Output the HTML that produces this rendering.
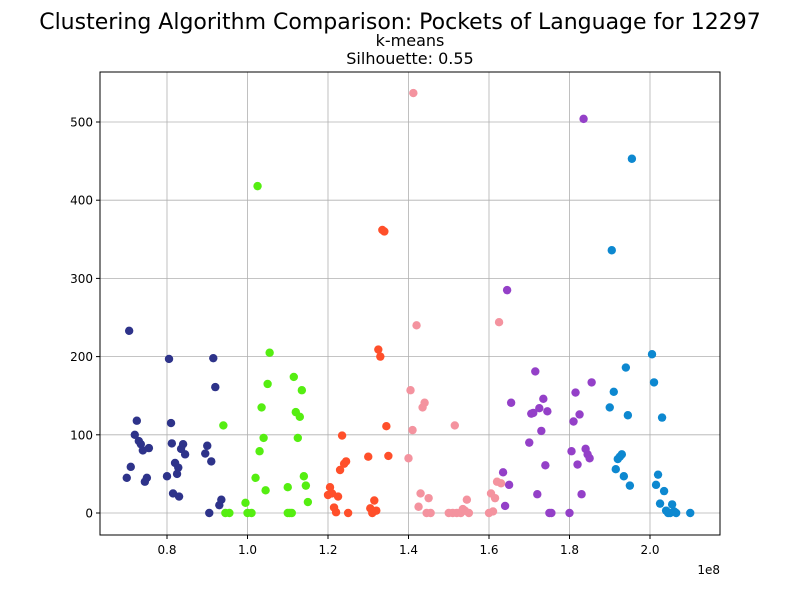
<!DOCTYPE html>
<html><head><meta charset="utf-8"><style>
body{margin:0;background:#fff;font-family:"Liberation Sans","DejaVu Sans",sans-serif;}
svg text{font-family:"DejaVu Sans","Liberation Sans",sans-serif;}
</style></head><body>
<svg id="chart" width="800" height="600" xmlns="http://www.w3.org/2000/svg">
<rect width="800" height="600" fill="#fff"/>
<text x="400" y="29" text-anchor="middle" font-size="22">Clustering Algorithm Comparison: Pockets of Language for 12297</text>
<text x="410" y="46" text-anchor="middle" font-size="16">k-means</text>
<text x="410" y="64" text-anchor="middle" font-size="16">Silhouette: 0.55</text>
<g id="grid"></g><g id="pts"></g><g id="axes"></g>
<text x="720" y="574" text-anchor="end" font-size="12">1e8</text>
</svg>
<script>
const xTicks=[0.8,1.0,1.2,1.4,1.6,1.8,2.0];
const yTicks=[0,100,200,300,400,500];
const colors=["#2e338a","#55ee11","#ff4f2a","#f4939f","#9440c8","#0d88d0"];
const navyX=[0.706,0.72,0.725,0.73,0.735,0.74,0.745,0.75,0.755,0.71,0.70,0.80,0.805,0.81,0.812,0.815,0.82,0.825,0.828,0.83,0.835,0.84,0.845,0.895,0.90,0.905,0.91,0.915,0.92,0.93,0.935];
const navyY=[233,100,118,92,88,80,40,45,83,59,45,47,197,115,89,25,64,50,58,21,82,88,75,76,86,0,66,198,161,10,17];
const greenX=[0.94,0.945,0.955,0.995,1.0,1.01,1.02,1.025,1.03,1.035,1.04,1.045,1.05,1.055,1.10,1.10,1.11,1.115,1.12,1.125,1.13,1.135,1.14,1.145,1.15,1.105];
const greenY=[112,0,0,13,0,0,45,418,79,135,96,29,165,205,33,0,0,174,129,96,123,157,47,35,14,0];
const redX=[1.20,1.205,1.21,1.215,1.22,1.225,1.23,1.235,1.24,1.245,1.25,1.30,1.305,1.31,1.315,1.32,1.325,1.33,1.335,1.34,1.345,1.35];
const redY=[23,33,25,7,1,21,55,99,63,66,0,72,6,0,16,3,209,200,362,360,111,73];
const pinkX=[1.40,1.405,1.41,1.412,1.42,1.425,1.43,1.435,1.44,1.445,1.45,1.455,1.50,1.51,1.515,1.52,1.53,1.535,1.54,1.545,1.55,1.60,1.605,1.61,1.615,1.62,1.625,1.63];
const pinkY=[70,157,106,537,240,8,25,135,141,0,19,0,0,0,112,0,0,5,3,17,0,0,25,2,19,40,244,38];
const purpleX=[1.635,1.64,1.645,1.65,1.655,1.70,1.705,1.71,1.715,1.72,1.725,1.73,1.735,1.74,1.745,1.75,1.755,1.80,1.805,1.81,1.815,1.82,1.825,1.83,1.835,1.84,1.845,1.85,1.855];
const purpleY=[52,9,285,36,141,90,127,128,181,24,134,105,146,61,130,0,0,0,79,117,154,62,126,24,504,82,75,70,167];
const blueX=[1.90,1.905,1.91,1.915,1.92,1.925,1.93,1.935,1.94,1.945,1.95,1.955,2.005,2.01,2.015,2.02,2.025,2.03,2.035,2.04,2.045,2.05,2.055,2.06,2.065,2.10];
const blueY=[135,336,155,56,69,72,75,47,186,125,35,453,203,167,36,49,12,122,28,3,0,0,11,2,0,0];
const L=100,R=720,T=72,B=535;
const sx=v=>167+(v-0.8)*402.5;
const sy=v=>513-v*0.782;
const NS="http://www.w3.org/2000/svg";
function mk(t,a,p){const e=document.createElementNS(NS,t);for(const k in a)e.setAttribute(k,a[k]);p.appendChild(e);return e;}
const grid=document.getElementById('grid'),axes=document.getElementById('axes'),pts=document.getElementById('pts');
xTicks.forEach(v=>{const x=sx(v);
 const g=mk('line',{x1:x,x2:x,y1:T,y2:B,stroke:'#b0b0b0','stroke-width':0.8},grid);
 
 
 mk('line',{x1:x,x2:x,y1:B,y2:B+4,stroke:'#000'},axes);
 const t=mk('text',{x:x,y:B+19,'text-anchor':'middle','font-size':12},axes);t.textContent=v.toFixed(1);
 
 });
yTicks.forEach(v=>{const y=sy(v);
 const g=mk('line',{x1:L,x2:R,y1:y,y2:y,stroke:'#b0b0b0','stroke-width':0.8},grid);
 
 
 mk('line',{x1:L-4,x2:L,y1:y,y2:y,stroke:'#000'},axes);
 const t=mk('text',{x:L-7,y:y+4.5,'text-anchor':'end','font-size':12},axes);t.textContent=v;
 
 });
const frame=mk('rect',{x:L,y:T,width:R-L,height:B-T,fill:'none',stroke:'#000','stroke-width':1},axes);


const series=[[navyX,navyY],[greenX,greenY],[redX,redY],[pinkX,pinkY],[purpleX,purpleY],[blueX,blueY]];
series.forEach((s,i)=>{s[0].forEach((xv,j)=>{
 const c=mk('circle',{cx:sx(xv),cy:sy(s[1][j]),r:4.2,fill:colors[i]},pts);
 
 });});
</script>
</body></html>
